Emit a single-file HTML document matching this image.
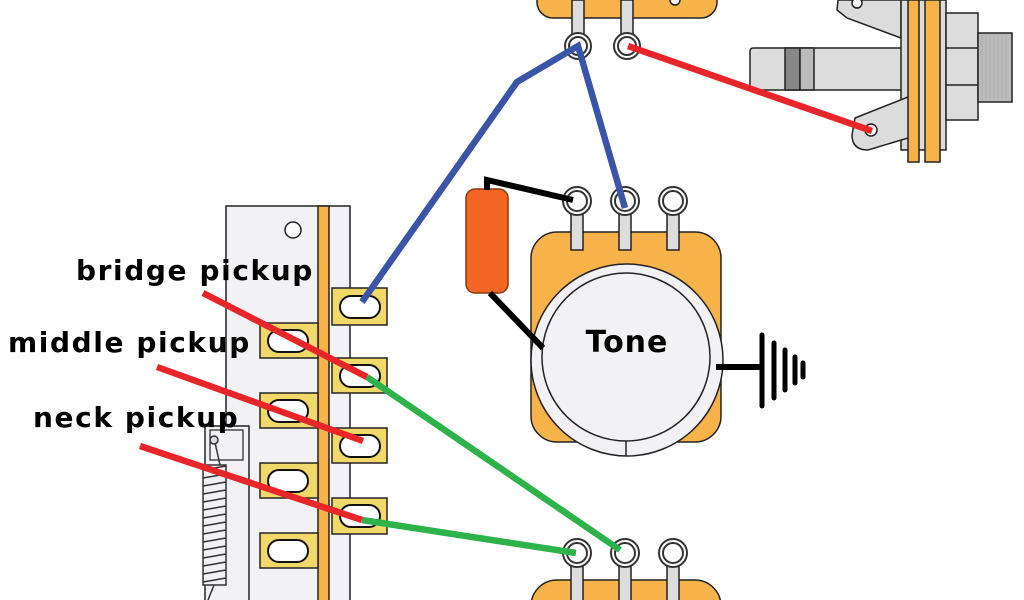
<!DOCTYPE html>
<html><head><meta charset="utf-8"><style>
html,body{margin:0;padding:0;background:#fff;width:1024px;height:600px;overflow:hidden}
svg{display:block}
text{font-family:"DejaVu Sans","Liberation Sans",sans-serif;font-weight:bold;fill:#000}
</style></head><body>
<svg width="1024" height="600" viewBox="0 0 1024 600" xmlns="http://www.w3.org/2000/svg">
<!-- switch plate -->
<rect x="226" y="206" width="124" height="400" fill="#f2f2f4" stroke="#222" stroke-width="1.5"/>
<rect x="318" y="206" width="11" height="400" fill="#f7b24a" stroke="#222" stroke-width="1.5"/>
<circle cx="293" cy="230" r="8" fill="#fff" stroke="#222" stroke-width="1.5"/>
<!-- spring -->
<rect x="205" y="426" width="44" height="180" fill="#f2f2f4" stroke="#222" stroke-width="1.5"/>
<rect x="210" y="430" width="33" height="30" fill="#f2f2f4" stroke="#222" stroke-width="1.2"/>
<g stroke="#333" stroke-width="1.5" fill="none">
<rect x="203" y="465" width="23" height="120" fill="#f2f2f4"/>
<line x1="214" y1="438" x2="220" y2="465"/>
<line x1="214" y1="585" x2="208" y2="600"/>
<path d="M203 470 L226 466 M203 478 L226 474 M203 486 L226 482 M203 494 L226 490 M203 502 L226 498 M203 510 L226 506 M203 518 L226 514 M203 526 L226 522 M203 534 L226 530 M203 542 L226 538 M203 550 L226 546 M203 558 L226 554 M203 566 L226 562 M203 574 L226 570 M203 582 L226 578"/>
</g>
<circle cx="214" cy="440" r="4" fill="#ddd" stroke="#333" stroke-width="1.5"/>
<!-- lugs -->
<g stroke="#222" stroke-width="1.5">
<rect x="332" y="288" width="55" height="37" fill="#f0d968"/>
<rect x="332" y="358" width="55" height="35" fill="#f0d968"/>
<rect x="332" y="428" width="55" height="35" fill="#f0d968"/>
<rect x="332" y="498" width="55" height="36" fill="#f0d968"/>
<rect x="260" y="323" width="58" height="35" fill="#f0d968"/>
<rect x="260" y="393" width="58" height="35" fill="#f0d968"/>
<rect x="260" y="463" width="58" height="35" fill="#f0d968"/>
<rect x="260" y="533" width="58" height="35" fill="#f0d968"/>
</g>
<g fill="#fff" stroke="#111" stroke-width="2">
<rect x="340" y="296" width="40" height="22" rx="11"/>
<rect x="340" y="365" width="40" height="22" rx="11"/>
<rect x="340" y="435" width="40" height="22" rx="11"/>
<rect x="340" y="505" width="40" height="22" rx="11"/>
<rect x="268" y="330" width="40" height="22" rx="11"/>
<rect x="268" y="400" width="40" height="22" rx="11"/>
<rect x="268" y="470" width="40" height="22" rx="11"/>
<rect x="268" y="540" width="40" height="22" rx="11"/>
</g>
<!-- top pot -->
<rect x="537" y="-30" width="180" height="48" rx="16" fill="#f7b24a" stroke="#222" stroke-width="1.5"/>
<circle cx="675" cy="0" r="5" fill="#fff" stroke="#222" stroke-width="1.5"/>
<g stroke="#222" stroke-width="1.5" fill="#ddd">
<rect x="572" y="0" width="12" height="38"/>
<rect x="621" y="0" width="12" height="38"/>
</g>
<g fill="#fff" stroke="#333" stroke-width="2">
<circle cx="578" cy="46" r="13"/><circle cx="578" cy="46" r="9"/>
<circle cx="627" cy="46" r="13"/><circle cx="627" cy="46" r="9"/>
</g>
<!-- jack -->
<g stroke="#222" stroke-width="1.5">
<rect x="750" y="48" width="155" height="42" rx="3" fill="#dcdcdc"/>
<rect x="785" y="48" width="15" height="42" fill="#888"/>
<rect x="800" y="48" width="14" height="42" fill="#bbb"/>
<path d="M838 0 L837 10 L847 18 L901 38 L901 0 Z" fill="#dcdcdc"/>
<circle cx="857" cy="3" r="5" fill="#fff"/>
<rect x="901" y="0" width="45" height="150" fill="#dcdcdc"/>
<rect x="946" y="13" width="32" height="107" fill="#dcdcdc"/>
<line x1="946" y1="48" x2="978" y2="48"/><line x1="946" y1="85" x2="978" y2="85"/>
<rect x="978" y="33" width="34" height="69" fill="#bbb"/>
<path d="M855 118 L918 93 L918 135 L868 150 Q852 150 852 135 Z" fill="#dcdcdc"/>
<circle cx="871" cy="130" r="6" fill="#fff"/>
<rect x="908" y="0" width="11" height="162" fill="#f7b24a"/>
<rect x="925" y="0" width="15" height="162" fill="#f7b24a"/>
</g>
<g stroke="#aaa" stroke-width="0.8">
<path d="M982 35 V100 M986 35 V100 M990 35 V100 M994 35 V100 M998 35 V100 M1002 35 V100 M1006 35 V100"/>
</g>
<!-- tone pot -->
<rect x="531" y="232" width="190" height="210" rx="26" fill="#f7b24a" stroke="#222" stroke-width="1.5"/>
<g stroke="#222" stroke-width="1.5" fill="#ddd">
<rect x="571" y="205" width="12" height="45"/>
<rect x="619" y="205" width="12" height="45"/>
<rect x="667" y="205" width="12" height="45"/>
</g>
<g fill="#fff" stroke="#333" stroke-width="2">
<circle cx="577" cy="201" r="14"/><circle cx="577" cy="201" r="10"/>
<circle cx="625" cy="201" r="14"/><circle cx="625" cy="201" r="10"/>
<circle cx="673" cy="201" r="14"/><circle cx="673" cy="201" r="10"/>
</g>
<circle cx="627" cy="360" r="96" fill="#f2f2f4" stroke="#222" stroke-width="1.5"/>
<circle cx="626" cy="357" r="84" fill="#f2f2f4" stroke="#222" stroke-width="1.5"/>
<line x1="626" y1="441" x2="626" y2="456" stroke="#222" stroke-width="1.5"/>
<text x="627" y="352" font-size="30" letter-spacing="1" text-anchor="middle">Tone</text>
<!-- capacitor -->
<rect x="466" y="189" width="42" height="104" rx="9" fill="#f26522" stroke="#8a3a10" stroke-width="1.5"/>
<g stroke="#000" stroke-width="6" fill="none">
<path d="M487 190 L487 180 L573 200"/>
<path d="M490 293 L543 348"/>
<path d="M716 367 L760 367"/>
</g>
<g stroke="#000" stroke-width="5" stroke-linecap="round">
<line x1="762" y1="335" x2="762" y2="406"/>
<line x1="774" y1="343" x2="774" y2="398"/>
<line x1="785" y1="350" x2="785" y2="390"/>
<line x1="795" y1="357" x2="795" y2="383"/>
<line x1="803" y1="363" x2="803" y2="377"/>
</g>
<!-- bottom pot -->
<rect x="531" y="580" width="190" height="60" rx="26" fill="#f7b24a" stroke="#222" stroke-width="1.5"/>
<g stroke="#222" stroke-width="1.5" fill="#ddd">
<rect x="571" y="560" width="12" height="45"/>
<rect x="619" y="560" width="12" height="45"/>
<rect x="667" y="560" width="12" height="45"/>
</g>
<g fill="#fff" stroke="#333" stroke-width="2">
<circle cx="577" cy="553" r="14"/><circle cx="577" cy="553" r="10"/>
<circle cx="625" cy="553" r="14"/><circle cx="625" cy="553" r="10"/>
<circle cx="673" cy="553" r="14"/><circle cx="673" cy="553" r="10"/>
</g>
<!-- wires -->
<g fill="none" stroke-width="6.5" stroke-linejoin="miter">
<path d="M362 302 L517 82 L578 46 L625 208" stroke="#3a55a8"/>
<path d="M628 46 L872 131" stroke="#e8262a"/>
<path d="M367 377 L620 550" stroke="#2db34a"/>
<path d="M362 520 L576 553" stroke="#2db34a"/>
<path d="M203 293 L367 377" stroke="#e8262a"/>
<path d="M157 367 L363 441" stroke="#e8262a"/>
<path d="M140 446 L362 520" stroke="#e8262a"/>
</g>
<!-- labels -->
<text x="76" y="280" font-size="28" letter-spacing="1.6">bridge pickup</text>
<text x="8" y="352" font-size="28" letter-spacing="1.6">middle pickup</text>
<text x="33" y="427" font-size="28" letter-spacing="1.6">neck pickup</text>
</svg>
</body></html>
